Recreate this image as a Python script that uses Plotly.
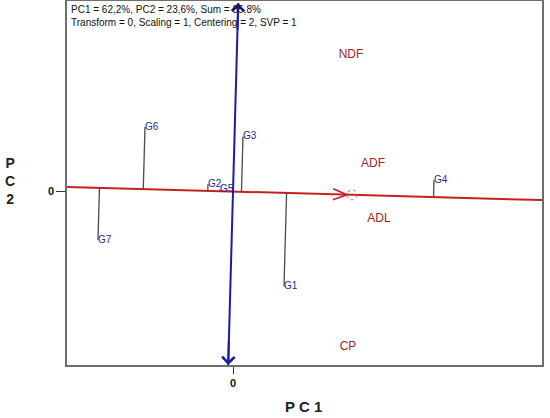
import numpy as np
import plotly.graph_objects as go

# ---- data ----
genotypes = ["G1", "G2", "G3", "G4", "G5", "G6", "G7"]
g_pc1 = [0.51, -0.25, 0.10, 2.01, -0.13, -0.88, -1.35]
g_pc2 = [-0.95, 0.075, 0.55, 0.115, 0.02, 0.645, -0.485]

traits = ["NDF", "ADF", "ADL", "CP"]
t_pc1 = [1.18, 1.40, 1.46, 1.15]
t_pc2 = [1.37, 0.28, -0.27, -1.555]

avg_env = [1.19, -0.033]          # average environment coordinate
x_range = [-1.66, 3.09]
y_range = [-1.735, 1.905]
x_ticks = [0]
y_ticks = [0]
info_lines = ["PC1 = 62,2%, PC2 = 23,6%, Sum = 85,8%",
              "Transform = 0, Scaling = 1, Centering = 2, SVP = 1"]

FONT = "Arial, Liberation Sans, sans-serif"
RED = "#c8201e"
BLUE = "#1c1ca8"

u = np.array(avg_env, dtype=float)
u = u / np.linalg.norm(u)
v = np.array([-u[1], u[0]])

fig = go.Figure()

# ATA abscissa (red line through origin along average-environment direction)
t0 = x_range[0] / u[0]
t1 = x_range[1] / u[0]
fig.add_trace(go.Scatter(x=[t0 * u[0], t1 * u[0]], y=[t0 * u[1], t1 * u[1]],
                         mode="lines", line=dict(color=RED, width=2),
                         hoverinfo="skip", showlegend=False))

# open chevron arrowhead just before the average environment point
ae = np.array(avg_env)
tip = ae - 0.05 * u
b1 = tip - 0.14 * u + 0.055 * v
b2 = tip - 0.14 * u - 0.055 * v
fig.add_trace(go.Scatter(x=[b1[0], tip[0], b2[0]], y=[b1[1], tip[1], b2[1]],
                         mode="lines", line=dict(color=RED, width=1.6),
                         hoverinfo="skip", showlegend=False))

# ATA ordinate (blue line, perpendicular)
s_top = (y_range[1] - 0.02) / v[1]
s_bot = y_range[0] / v[1]
top = s_top * v
bot = s_bot * v
fig.add_trace(go.Scatter(x=[bot[0], top[0]], y=[bot[1], top[1]],
                         mode="lines", line=dict(color=BLUE, width=2),
                         hoverinfo="skip", showlegend=False))

# projection lines from genotypes to the ATA axis
for gx, gy in zip(g_pc1, g_pc2):
    p = np.array([gx, gy])
    foot = np.dot(p, u) * u
    fig.add_trace(go.Scatter(x=[gx, foot[0]], y=[gy, foot[1]], mode="lines",
                             line=dict(color="#4a4a4a", width=1.3),
                             hoverinfo="skip", showlegend=False))

# genotype labels
fig.add_trace(go.Scatter(x=g_pc1, y=g_pc2, mode="text", text=genotypes,
                         textposition="middle right",
                         textfont=dict(family=FONT, size=10, color="#2a2a8c"),
                         hoverinfo="skip", showlegend=False))

# trait labels
fig.add_trace(go.Scatter(x=t_pc1, y=t_pc2, mode="text", text=traits,
                         textposition="middle center",
                         textfont=dict(family=FONT, size=12, color="#9a2626"),
                         hoverinfo="skip", showlegend=False))

ann = []
# arrows on blue axis
ann.append(dict(x=top[0], y=top[1], ax=top[0] * 0.85, ay=top[1] * 0.85,
                xref="x", yref="y", axref="x", ayref="y", showarrow=True,
                arrowhead=4, arrowsize=1.2, arrowwidth=2, arrowcolor=BLUE, text=""))
ann.append(dict(x=bot[0], y=bot[1], ax=bot[0] * 0.85, ay=bot[1] * 0.85,
                xref="x", yref="y", axref="x", ayref="y", showarrow=True,
                arrowhead=4, arrowsize=1.2, arrowwidth=2, arrowcolor=BLUE, text=""))
# info text
ann.append(dict(x=0.004, y=0.997, xref="paper", yref="paper", xanchor="left",
                yanchor="top", showarrow=False, align="left",
                text="<br>".join(info_lines),
                font=dict(family=FONT, size=10, color="#111")))
# axis titles
ann.append(dict(x=-0.12, y=0.505, xref="paper", yref="paper", showarrow=False,
                xanchor="center", yanchor="middle",
                text="<b>P<br>C<br>2</b>", font=dict(family=FONT, size=14, color="#222")))
ann.append(dict(x=0.497, y=-0.115, xref="paper", yref="paper", showarrow=False,
                xanchor="center", yanchor="middle",
                text="<b>P C 1</b>", font=dict(family=FONT, size=15, color="#222")))

shapes = [dict(type="circle", xref="x", yref="y",
               x0=avg_env[0] - 0.05, x1=avg_env[0] + 0.05,
               y0=avg_env[1] - 0.05, y1=avg_env[1] + 0.05,
               line=dict(color="#c86a6a", width=1, dash="dot"))]

fig.update_layout(
    width=550, height=418,
    margin=dict(l=67, r=8, t=1, b=53, autoexpand=False),
    paper_bgcolor="white", plot_bgcolor="white",
    annotations=ann, shapes=shapes,
    font=dict(family=FONT),
)
fig.update_xaxes(range=x_range, showgrid=False, zeroline=False, automargin=False,
                 showline=True, mirror=True, linecolor="#6e6e6e", linewidth=1.5,
                 tickvals=x_ticks, ticktext=["<b>0</b>"], ticks="outside",
                 ticklen=7, tickcolor="#333", tickfont=dict(size=11, color="#111"))
fig.update_yaxes(range=y_range, showgrid=False, zeroline=False, automargin=False,
                 showline=True, mirror=True, linecolor="#6e6e6e", linewidth=1.5,
                 tickvals=y_ticks, ticktext=["<b>0</b>"], ticks="outside",
                 ticklen=9, tickcolor="#333", tickfont=dict(size=11, color="#111"))

fig.write_html("out.html", config={"displayModeBar": False},
               post_script="document.body.style.margin='0';document.body.style.padding='0';")
